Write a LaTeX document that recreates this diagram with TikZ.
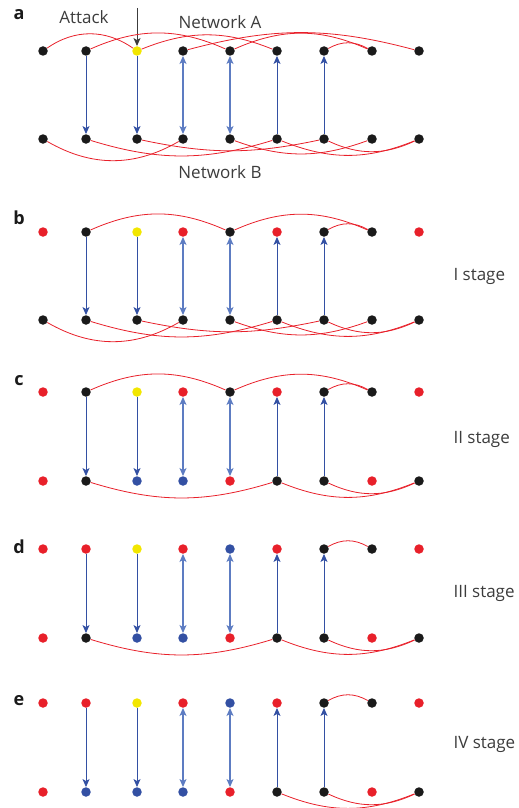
\documentclass[tikz,border=0pt]{standalone}
\usepackage{fontspec}
\setmainfont{Open Sans}
\usetikzlibrary{arrows.meta}

\definecolor{nred}{HTML}{E8202A}
\definecolor{nyel}{HTML}{F2E600}
\definecolor{nblu}{HTML}{3350A3}
\definecolor{nblk}{HTML}{1A1A1A}
\definecolor{lblu}{HTML}{5D7CC2}

% one row of nine nodes: prefix, y, colours
\newcommand\dotrow[3]{%
  \foreach \c [count=\i] in {#3} {%
    \pgfmathsetmacro\xx{{43,86,137,183,230,277,324,372,419}[\i-1]}
    \node[vtx,fill=\c] (#1\i) at (\xx,#2) {};
  }}

% dependency links, the same in every panel
\newcommand\deps[1]{%
  \foreach \i in {2,3} \draw[dep] (#1A\i) -- (#1B\i);
  \foreach \i in {4,5} \draw[depboth] (#1A\i) -- (#1B\i);
  \foreach \i in {6,7} \draw[dep] (#1B\i) -- (#1A\i);}

\begin{document}
\begin{tikzpicture}[x=1pt,y=-1pt]
  \tikzstyle{vtx}=[circle,inner sep=0pt,minimum size=9.5pt]
  \tikzstyle{link}=[draw=nred,line width=0.8pt]
  \tikzstyle{dep}=[draw=nblu,line width=0.9pt,-{Stealth[length=8pt,width=7pt,inset=2pt]}]
  \tikzstyle{depboth}=[draw=lblu,line width=1.2pt,{Stealth[length=8pt,width=7pt,inset=2pt]}-{Stealth[length=8pt,width=7pt,inset=2pt]}]
  \tikzstyle{lbl}=[font=\fontsize{17}{20}\selectfont,text=nblk!85]
  \tikzstyle{panel}=[font=\fontsize{18}{20}\selectfont\bfseries,text=nblk]
  \tikzstyle{stage}=[lbl,anchor=west]
  \useasboundingbox (0,0) rectangle (519,808);

  % a
  \node[panel] (la) at (19,15) {a};
  \dotrow{aA}{51}{nblk,nblk,nyel,nblk,nblk,nblk,nblk,nblk,nblk}
  \dotrow{aB}{139}{nblk,nblk,nblk,nblk,nblk,nblk,nblk,nblk,nblk}
  \node[lbl] (attack) at (84,17) {Attack};
  \node[lbl] (neta) at (220,22) {Network A};
  \node[lbl] (netb) at (220,172) {Network B};
  \coordinate (hit) at (137,8);
  \draw[draw=nblk!85,line width=1pt,-{Stealth[length=8pt,width=7pt,inset=2pt]}] (hit) -- (aA3);
  \draw[link] (aA1) to[bend left=35] (aA3);
  \draw[link] (aA2) to[bend left=24] (aA5);
  \draw[link] (aA3) to[bend left=22] (aA6);
  \draw[link] (aA4) to[bend left=15] (aA9);
  \draw[link] (aA5) to[bend left=24] (aA8);
  \draw[link] (aA7) to[bend left=30] (aA8);
  \draw[link] (aB1) to[bend right=30] (aB4);
  \draw[link] (aB2) to[bend right=17] (aB6);
  \draw[link] (aB3) to[bend right=12] (aB7);
  \draw[link] (aB5) to[bend right=20] (aB8);
  \draw[link] (aB6) to[bend right=22] (aB9);
  \draw[link] (aB7) to[bend right=25] (aB9);
  \deps{a}

  % b
  \node[panel] (lb) at (19,218) {b};
  \dotrow{bA}{232}{nred,nblk,nyel,nred,nblk,nred,nblk,nblk,nred}
  \dotrow{bB}{320}{nblk,nblk,nblk,nblk,nblk,nblk,nblk,nblk,nblk}
  \node[stage] (s1) at (450,276) {I stage};
  \draw[link] (bA2) to[bend left=24] (bA5);
  \draw[link] (bA5) to[bend left=24] (bA8);
  \draw[link] (bA7) to[bend left=30] (bA8);
  \draw[link] (bB1) to[bend right=30] (bB4);
  \draw[link] (bB2) to[bend right=17] (bB6);
  \draw[link] (bB3) to[bend right=12] (bB7);
  \draw[link] (bB5) to[bend right=20] (bB8);
  \draw[link] (bB6) to[bend right=22] (bB9);
  \draw[link] (bB7) to[bend right=25] (bB9);
  \deps{b}

  % c
  \node[panel] (lc) at (19,381) {c};
  \dotrow{cA}{392}{nred,nblk,nyel,nred,nblk,nred,nblk,nblk,nred}
  \dotrow{cB}{481}{nred,nblk,nblu,nblu,nred,nblk,nblk,nred,nblk}
  \node[stage] (s2) at (450,439) {II stage};
  \draw[link] (cA2) to[bend left=24] (cA5);
  \draw[link] (cA5) to[bend left=24] (cA8);
  \draw[link] (cA7) to[bend left=30] (cA8);
  \draw[link] (cB2) to[bend right=17] (cB6);
  \draw[link] (cB6) to[bend right=22] (cB9);
  \draw[link] (cB7) to[bend right=25] (cB9);
  \deps{c}

  % d
  \node[panel] (ld) at (19,547) {d};
  \dotrow{dA}{549}{nred,nred,nyel,nred,nblu,nred,nblk,nblk,nred}
  \dotrow{dB}{638}{nred,nblk,nblu,nblu,nred,nblk,nblk,nred,nblk}
  \node[stage] (s3) at (450,593) {III stage};
  \draw[link] (dA7) to[bend left=30] (dA8);
  \draw[link] (dB2) to[bend right=17] (dB6);
  \draw[link] (dB6) to[bend right=22] (dB9);
  \draw[link] (dB7) to[bend right=25] (dB9);
  \deps{d}

  % e
  \node[panel] (le) at (19,701) {e};
  \dotrow{eA}{703}{nred,nred,nyel,nred,nblu,nred,nblk,nblk,nred}
  \dotrow{eB}{792}{nred,nblu,nblu,nblu,nred,nblk,nblk,nred,nblk}
  \node[stage] (s4) at (450,744) {IV stage};
  \draw[link] (eA7) to[bend left=30] (eA8);
  \draw[link] (eB6) to[bend right=22] (eB9);
  \draw[link] (eB7) to[bend right=25] (eB9);
  \deps{e}
\end{tikzpicture}
\end{document}
